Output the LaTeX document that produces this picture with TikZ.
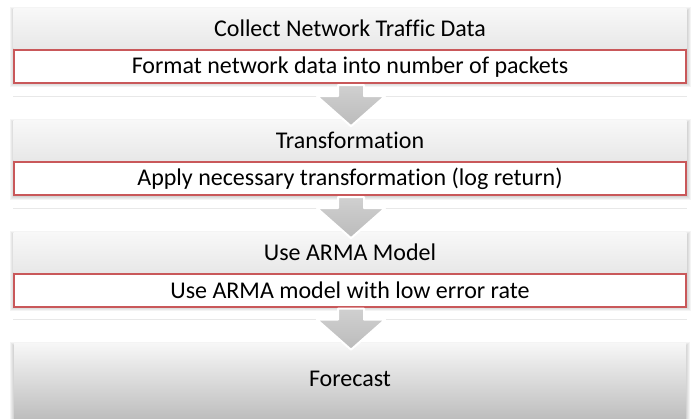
\documentclass[tikz,border=0pt]{standalone}
\usepackage{fontspec}
\setmainfont{Carlito}[RawFeature={-liga}]
\usetikzlibrary{calc}
\definecolor{boxred}{HTML}{C9585A}
\definecolor{hdtop}{HTML}{F8F8F8}
\definecolor{hdbot}{HTML}{E8E8E8}
\definecolor{fctop}{HTML}{F7F7F7}
\definecolor{fcbot}{HTML}{BEBEBE}
\definecolor{arrtop}{HTML}{D0D0D0}
\definecolor{arrbot}{HTML}{BBBBBB}
\tikzset{
  x=1pt, y=-1pt,
  stepfont/.style={font=\fontsize{24}{28}\selectfont},
  header/.style={rectangle, inner sep=0pt, minimum width=673pt, minimum height=40pt,
    top color=hdtop, bottom color=hdbot, stepfont},
  detail/.style={rectangle, inner sep=0pt, minimum width=672pt, minimum height=33pt,
    fill=white, draw=boxred, line width=2.2pt, stepfont},
  lastbox/.style={rectangle, inner sep=0pt, minimum width=672pt, minimum height=75pt,
    top color=fctop, bottom color=fcbot},
  shadowlayer/.style={fill=black, fill opacity=0.045, draw=none},
  flowarrow/.style={top color=arrtop, bottom color=arrbot, draw=white, line width=2pt,
    line join=round},
  reflect/.style={draw=black!9, line width=0.8pt},
}
% soft shadow behind a group of nodes, given by two corner points
\newcommand{\softshadow}[2]{%
  \foreach \k in {1,2,3,4}{%
    \fill[shadowlayer] ($(#1)+(-\k,-\k+3)$) rectangle ($(#2)+(\k,\k+1)$);
  }%
}
% down arrow hanging from an anchor
\newcommand{\flowdown}[1]{%
  \begin{scope}[shift={(#1)}]
    \filldraw[flowarrow] (-13,0) -- (13,0) -- (13,11) -- (34,11) -- (0,41)
      -- (-34,11) -- (-13,11) -- cycle;
  \end{scope}%
}
\begin{document}
\begin{tikzpicture}
\useasboundingbox (0,0) rectangle (691,418);

% box centres
\path (350,28)  coordinate (c1);
\path (350,140) coordinate (c2);
\path (350,252) coordinate (c3);

% shadows
\softshadow{13.5,8}{686.5,82}
\softshadow{13.5,120}{686.5,195}
\softshadow{13.5,232}{686.5,306}
\softshadow{14,343}{686,418}

% step 1
\node[header] (h1) at (c1) {Collect Network Traffic Data};
\node[detail, anchor=north] (r1) at (350,49) {Format network data into number of packets};
% step 2
\node[header] (h2) at (c2) {Transformation};
\node[detail, anchor=north] (r2) at (350,161) {Apply necessary transformation (log return)};
% step 3
\node[header] (h3) at (c3) {Use ARMA Model};
\node[detail, anchor=north] (r3) at (350,272.5) {Use ARMA model with low error rate};
% final step
\node[lastbox, anchor=north] (fc) at (350,343) {};
\node[stepfont] (fct) at (350,379) {Forecast};

% faint reflection lines under the detail boxes
\foreach \r in {r1,r2,r3}{
  \draw[reflect] ($(\r.south west)+(0,12)$) -- ($(\r.south east)+(0,12)$);
}

% connectors
\flowdown{$(r1.south)+(1,1)$}
\flowdown{$(r2.south)+(1,1)$}
\flowdown{$(r3.south)+(1,1)$}
\end{tikzpicture}
\end{document}
